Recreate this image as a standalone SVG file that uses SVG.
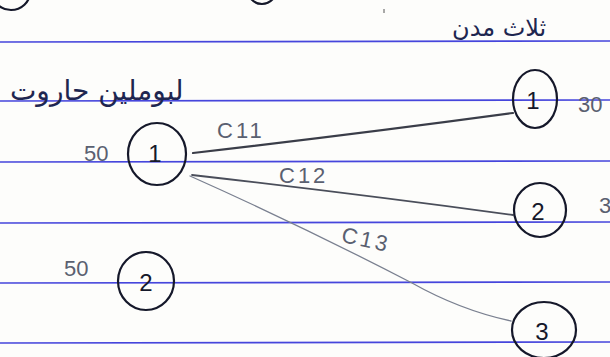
<svg xmlns="http://www.w3.org/2000/svg" width="610" height="357" viewBox="0 0 610 357">
<style>
.paper{fill:#fdfdfb}
.rule{stroke:#4646dc;stroke-width:1.6;fill:none}
.node{fill:none;stroke:#15182a;stroke-width:2.2}
.num{font-family:"Liberation Sans",Arial,sans-serif;font-size:24px;fill:#15182a;text-anchor:middle}
.pencil{font-family:"Liberation Sans",Arial,sans-serif;font-size:22px;fill:#5a6070;font-weight:300}
.lbl{letter-spacing:3px}
.arabic{font-family:"DejaVu Sans","Noto Sans",sans-serif;fill:#1e2650}
.edge{fill:none;stroke-linecap:round}
</style>
<rect class="paper" x="0" y="0" width="610" height="357"/>
<g id="ruling">
<line class="rule" x1="0" y1="42" x2="610" y2="41"/>
<line class="rule" x1="0" y1="101" x2="610" y2="100"/>
<line class="rule" x1="0" y1="162" x2="610" y2="161"/>
<line class="rule" x1="0" y1="223" x2="610" y2="222"/>
<line class="rule" x1="0" y1="283" x2="610" y2="282"/>
<line class="rule" x1="0" y1="343" x2="610" y2="342"/>
</g>
<g id="fragments">
<ellipse class="node" cx="11" cy="-8" rx="19" ry="18"/>
<ellipse class="node" cx="262" cy="-12" rx="15" ry="16"/>
<line x1="384" y1="9" x2="384" y2="13" stroke="#555" stroke-width="1"/>
</g>
<text class="arabic" x="452" y="36" font-size="24">ثلاث مدن</text>
<text class="arabic" x="10" y="100" font-size="28">لبوملين حاروت</text>
<g id="connectors">
<path class="edge" d="M193 153 Q350 135 513 113" stroke="#3a3d48" stroke-width="2.2"/>
<path class="edge" d="M192 175 Q350 193 513 215" stroke="#4a4e5a" stroke-width="1.8"/>
<path class="edge" d="M190 176 Q300 225 412 283 Q460 310 511 321" stroke="#7a8090" stroke-width="1.3"/>
<text class="pencil lbl" x="217" y="138">C11</text>
<text class="pencil lbl" x="279" y="183">C12</text>
<text class="pencil lbl" x="341" y="248" transform="rotate(12 370 242)">C13</text>
</g>
<g id="source1">
<ellipse class="node" cx="157" cy="154" rx="29" ry="31"/>
<text class="num" x="155" y="162">1</text>
<text class="pencil" x="84" y="161">50</text>
</g>
<g id="source2">
<ellipse class="node" cx="146" cy="281" rx="28" ry="29"/>
<text class="num" x="146" y="291">2</text>
<text class="pencil" x="64" y="276">50</text>
</g>
<g id="dest1">
<ellipse class="node" cx="535" cy="99" rx="22" ry="29" stroke-width="3"/>
<text class="num" x="533" y="109">1</text>
<text class="pencil" x="578" y="112">30</text>
</g>
<g id="dest2">
<ellipse class="node" cx="540" cy="210" rx="26" ry="27" stroke-width="1.8"/>
<text class="num" x="538" y="220">2</text>
<text class="pencil" x="599" y="213" font-size="14">3</text>
</g>
<g id="dest3">
<ellipse class="node" cx="544" cy="330" rx="32" ry="28" stroke-width="1.8"/>
<text class="num" x="542" y="340">3</text>
</g>
</svg>
